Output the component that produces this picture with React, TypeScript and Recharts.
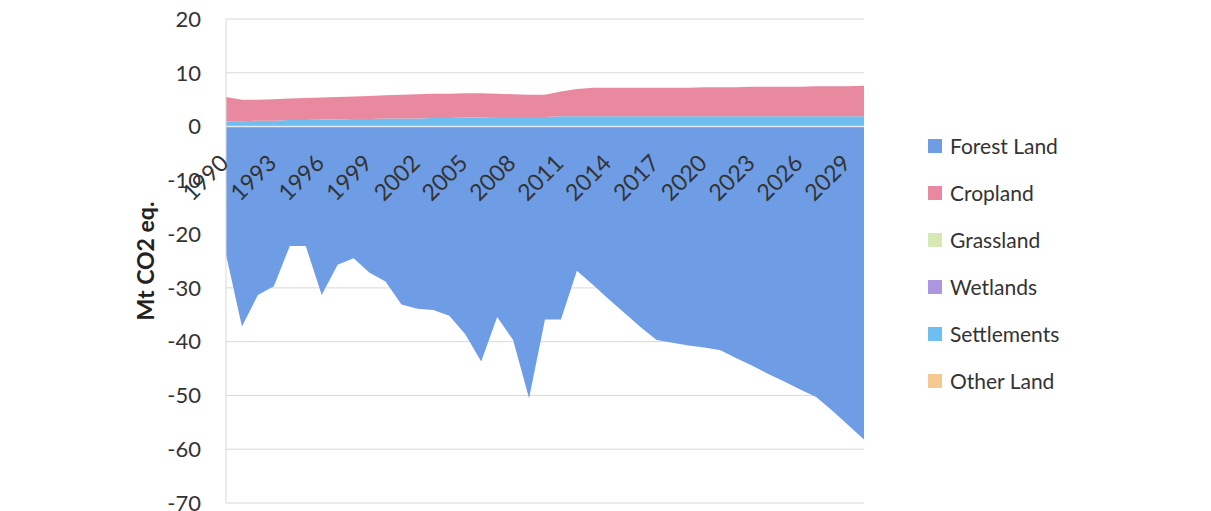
import { Area, AreaChart, CartesianGrid, ReferenceLine, XAxis, YAxis } from 'recharts';

const years = [
	'1990', '1991', '1992', '1993', '1994', '1995', '1996', '1997', '1998', '1999',
	'2000', '2001', '2002', '2003', '2004', '2005', '2006', '2007', '2008', '2009',
	'2010', '2011', '2012', '2013', '2014', '2015', '2016', '2017', '2018', '2019',
	'2020', '2021', '2022', '2023', '2024', '2025', '2026', '2027', '2028', '2029',
	'2030',
];

const forestLand = [
	-23.8, -37.2, -31.3, -29.7, -22.2, -22.2, -31.3, -25.7, -24.5, -27.2,
	-28.8, -33.1, -33.9, -34.1, -35.2, -38.6, -43.7, -35.4, -39.7, -50.5,
	-35.9, -35.9, -26.8, -29.4, -32.1, -34.7, -37.3, -39.7, -40.2, -40.7,
	-41.1, -41.6, -43.1, -44.5, -46.0, -47.4, -48.9, -50.3, -52.8, -55.5,
	-58.2,
];

const cropland = [
	4.5, 4.0, 3.9, 4.0, 4.0, 4.1, 4.1, 4.2, 4.2, 4.3,
	4.3, 4.4, 4.5, 4.5, 4.5, 4.5, 4.5, 4.3, 4.2, 4.1,
	4.1, 4.6, 5.1, 5.3, 5.3, 5.3, 5.3, 5.3, 5.3, 5.3,
	5.4, 5.4, 5.4, 5.5, 5.5, 5.5, 5.5, 5.6, 5.6, 5.6,
	5.7,
];

const grassland = [
	0, 0, 0, 0, 0, 0, 0, 0, 0, 0, 0, 0, 0, 0, 0, 0, 0, 0, 0, 0, 0,
	0, 0, 0, 0, 0, 0, 0, 0, 0, 0, 0, 0, 0, 0, 0, 0, 0, 0, 0, 0,
];

const wetlands = [
	0, 0, 0, 0, 0, 0, 0, 0, 0, 0, 0, 0, 0, 0, 0, 0, 0, 0, 0, 0, 0,
	0, 0, 0, 0, 0, 0, 0, 0, 0, 0, 0, 0, 0, 0, 0, 0, 0, 0, 0, 0,
];

const settlements = [
	1.0, 1.0, 1.1, 1.1, 1.2, 1.2, 1.3, 1.3, 1.4, 1.4,
	1.5, 1.5, 1.5, 1.6, 1.6, 1.7, 1.7, 1.8, 1.8, 1.8,
	1.8, 1.9, 1.9, 1.9, 1.9, 1.9, 1.9, 1.9, 1.9, 1.9,
	1.9, 1.9, 1.9, 1.9, 1.9, 1.9, 1.9, 1.9, 1.9, 1.9,
	1.9,
];

const otherLand = [
	0, 0, 0, 0, 0, 0, 0, 0, 0, 0, 0, 0, 0, 0, 0, 0, 0, 0, 0, 0, 0,
	0, 0, 0, 0, 0, 0, 0, 0, 0, 0, 0, 0, 0, 0, 0, 0, 0, 0, 0, 0,
];

const yTicks = [-70, -60, -50, -40, -30, -20, -10, 0, 10, 20];

const series = [
	{ key: 'forest', label: 'Forest Land', color: '#6e9de6', values: forestLand },
	{ key: 'crop', label: 'Cropland', color: '#e889a0', values: cropland },
	{ key: 'grass', label: 'Grassland', color: '#d8e8b4', values: grassland },
	{ key: 'wet', label: 'Wetlands', color: '#ad96e0', values: wetlands },
	{ key: 'settle', label: 'Settlements', color: '#6ebef0', values: settlements },
	{ key: 'other', label: 'Other Land', color: '#f4c890', values: otherLand },
];

// settlements sit right on the zero line, cropland above them
const drawOrder = ['forest', 'settle', 'crop', 'grass', 'wet', 'other'];

const data = years.map((year, i) => {
	const row: Record<string, string | number> = { year };
	series.forEach((s) => {
		row[s.key] = s.values[i];
	});
	return row;
});

const W = 1211;
const H = 511;
const TOP = 19;
const BOTTOM = 8;
const Y_MIN = -70;
const Y_MAX = 20;
const PLOT_H = H - TOP - BOTTOM;
const ZERO_Y = TOP + ((Y_MAX - 0) / (Y_MAX - Y_MIN)) * PLOT_H;
const FONT = 'Lato, "Open Sans", sans-serif';

function YearTick(props: any) {
	const { x, payload } = props;
	const tx = x + 4;
	const ty = ZERO_Y + 38;
	return (
		<text
			x={tx}
			y={ty}
			textAnchor="end"
			transform={`rotate(-45, ${tx}, ${ty})`}
			fontSize={23}
			fontFamily={FONT}
			fill="#333"
		>
			{payload.value}
		</text>
	);
}

function AxisTitle(props: any) {
	const vb = props.viewBox;
	const cx = vb.x + 145;
	const cy = vb.y + vb.height / 2;
	return (
		<text
			x={cx}
			y={cy}
			textAnchor="middle"
			dominantBaseline="central"
			transform={`rotate(-90, ${cx}, ${cy})`}
			fontSize={23}
			fontWeight={700}
			fontFamily={FONT}
			fill="#222"
		>
			Mt CO2 eq.
		</text>
	);
}

export default function App() {
	return (
		<div style={{ position: 'absolute', left: 0, top: 0, width: W, height: H, background: '#fff' }}>
			<AreaChart
				width={W}
				height={H}
				data={data}
				stackOffset="sign"
				margin={{ top: TOP, right: 347, bottom: BOTTOM - 1, left: 0 }}
			>
				<CartesianGrid vertical={false} stroke="#d9d9d9" />
				<XAxis
					dataKey="year"
					height={1}
					interval={2}
					axisLine={false}
					tickLine={false}
					tick={<YearTick />}
				/>
				<YAxis
					width={226}
					domain={[Y_MIN, Y_MAX]}
					ticks={yTicks}
					interval={0}
					allowDataOverflow
					tickLine={false}
					tickSize={0}
					tickMargin={25}
					axisLine={{ stroke: '#d9d9d9' }}
					tick={{ fontSize: 22, fill: '#333', fontFamily: FONT }}
					label={<AxisTitle />}
				/>
				{drawOrder.map((key) => {
					const s = series.find((item) => item.key === key)!;
					return (
						<Area
							key={s.key}
							type="linear"
							dataKey={s.key}
							name={s.label}
							stackId="land"
							stroke="none"
							fill={s.color}
							fillOpacity={1}
							isAnimationActive={false}
						/>
					);
				})}
				<ReferenceLine y={0} stroke="#e4e8f0" strokeWidth={1.5} />
			</AreaChart>
			<div style={{ position: 'absolute', left: 928, top: 122, fontFamily: FONT }}>
				{series.map((s) => (
					<div
						key={s.key}
						style={{ display: 'flex', alignItems: 'center', height: 47, fontSize: 21, color: '#333' }}
					>
						<span
							style={{ width: 14, height: 14, background: s.color, marginRight: 8, display: 'inline-block' }}
						/>
						{s.label}
					</div>
				))}
			</div>
		</div>
	);
}
